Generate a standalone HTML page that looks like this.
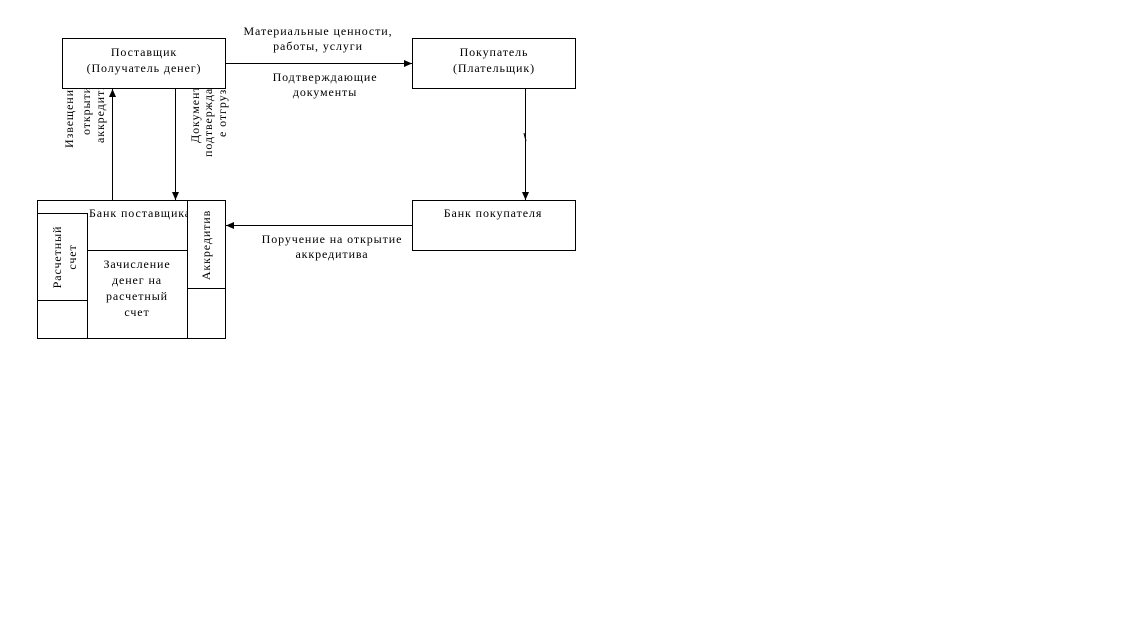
<!DOCTYPE html>
<html><head><meta charset="utf-8"><style>
html,body{margin:0;padding:0;background:#fff;}
svg{display:block;}
text{font-family:"Liberation Serif","DejaVu Serif",serif;font-size:12px;fill:#000;letter-spacing:0.9px;}
</style></head><body>
<svg width="1126" height="641" viewBox="0 0 1126 641" xmlns="http://www.w3.org/2000/svg">
<defs>
<marker id="a" markerWidth="8" markerHeight="8" refX="8" refY="4" orient="auto" markerUnits="userSpaceOnUse">
<path d="M0,0.5 L8,4 L0,7.5 Z" fill="#000"/></marker>
<clipPath id="c1"><rect x="0" y="89" width="300" height="200"/></clipPath>
<clipPath id="c2"><rect x="88" y="201" width="99" height="40"/></clipPath>
</defs>
<g fill="none" stroke="#000" stroke-width="1">
<rect x="62.5" y="38.5" width="163" height="50"/>
<rect x="412.5" y="38.5" width="163" height="50"/>
<rect x="412.5" y="200.5" width="163" height="50"/>
<rect x="37.5" y="200.5" width="188" height="138"/>
<rect x="37.5" y="213.5" width="50" height="87"/>
<line x1="87.5" y1="213" x2="87.5" y2="338"/>
<line x1="87.5" y1="250.5" x2="187.5" y2="250.5"/>
<rect x="187.5" y="200.5" width="38" height="88"/>
<line x1="187.5" y1="288" x2="187.5" y2="338"/>
</g>
<g stroke="#000" stroke-width="1" fill="none">
<line x1="225" y1="63.5" x2="412" y2="63.5" marker-end="url(#a)"/>
<line x1="112.5" y1="200" x2="112.5" y2="89" marker-end="url(#a)"/>
<line x1="175.5" y1="89" x2="175.5" y2="200" marker-end="url(#a)"/>
<line x1="525.5" y1="89" x2="525.5" y2="200" marker-end="url(#a)"/>
<line x1="412" y1="225.5" x2="226" y2="225.5" marker-end="url(#a)"/>
<line x1="524" y1="133" x2="526" y2="141"/>
</g>
<text x="144" y="56" text-anchor="middle">Поставщик</text>
<text x="144" y="72" text-anchor="middle">(Получатель денег)</text>
<text x="494" y="56" text-anchor="middle">Покупатель</text>
<text x="494" y="72" text-anchor="middle">(Плательщик)</text>
<text x="493" y="217" text-anchor="middle">Банк покупателя</text>
<text x="318" y="35" text-anchor="middle">Материальные ценности,</text>
<text x="318" y="50" text-anchor="middle">работы, услуги</text>
<text x="325" y="81" text-anchor="middle">Подтверждающие</text>
<text x="325" y="96" text-anchor="middle">документы</text>
<text x="332" y="243" text-anchor="middle">Поручение на открытие</text>
<text x="332" y="258" text-anchor="middle">аккредитива</text>
<text x="89" y="217" clip-path="url(#c2)">Банк поставщика</text>
<text x="137" y="268" text-anchor="middle">Зачисление</text>
<text x="137" y="284" text-anchor="middle">денег на</text>
<text x="137" y="300" text-anchor="middle">расчетный</text>
<text x="137" y="316" text-anchor="middle">счет</text>
<text transform="translate(61,257) rotate(-90)" text-anchor="middle">Расчетный</text>
<text transform="translate(76,257) rotate(-90)" text-anchor="middle">счет</text>
<text transform="translate(210,245) rotate(-90)" text-anchor="middle">Аккредитив</text>
<g clip-path="url(#c1)">
<text transform="translate(73,148) rotate(-90)">Извещение об</text>
<text transform="translate(90,135) rotate(-90)">открытии</text>
<text transform="translate(104,143) rotate(-90)">аккредитива</text>
<text transform="translate(199,143) rotate(-90)">Документы,</text>
<text transform="translate(212,157) rotate(-90)">подтверждающи</text>
<text transform="translate(226,137) rotate(-90)">е отгрузку</text>
<text transform="translate(547,133) rotate(-90)">Заявление на</text>
<text transform="translate(565,128) rotate(-90)">аккредитив</text>
</g>
</svg>
</body></html>
